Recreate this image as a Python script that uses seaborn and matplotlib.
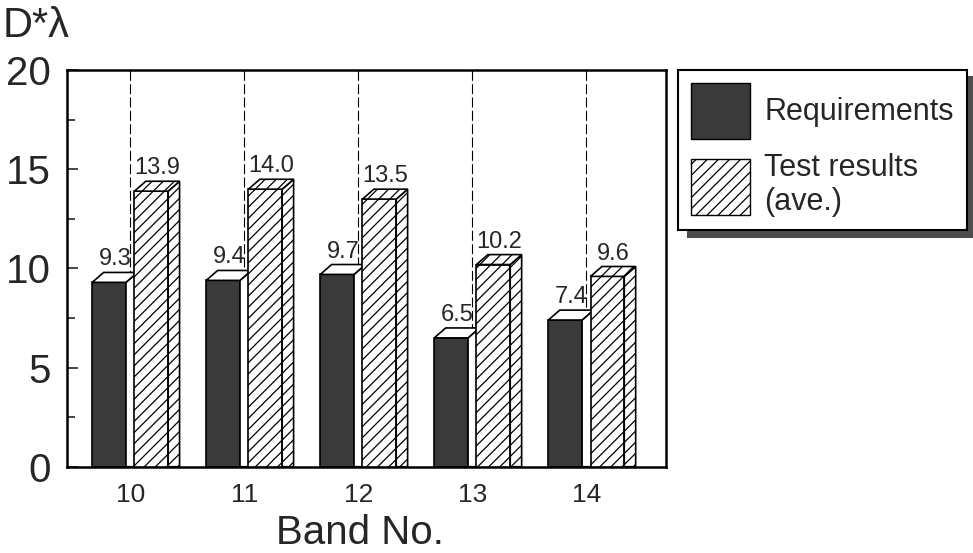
import pandas as pd
import matplotlib.pyplot as plt
import numpy as np
import seaborn as sns
from matplotlib.patches import Polygon, Patch
from matplotlib.ticker import MultipleLocator

sns.set_style("white")
plt.rcParams['font.family'] = ['Liberation Sans', 'DejaVu Sans']
plt.rcParams['hatch.linewidth'] = 0.9

# data
bands = ['10', '11', '12', '13', '14']
requirements = [9.3, 9.4, 9.7, 6.5, 7.4]
test_results = [13.9, 14.0, 13.5, 10.2, 9.6]
series = ['Requirements', 'Test results (ave.)']

df = pd.DataFrame({
    'band': bands * 2,
    'value': requirements + test_results,
    'series': [series[0]] * len(bands) + [series[1]] * len(bands),
})

dark = '#3a3a3a'
fig = plt.figure(figsize=(9.73, 5.53), dpi=100)
ax = fig.add_axes([0.069, 0.156, 0.6156, 0.717])

# dashed guide lines behind the bars
for i in range(len(bands)):
    ax.axvline(i, color='black', lw=0.8, ls=(0, (9, 3)), zorder=0)

sns.barplot(data=df, x='band', y='value', hue='series', hue_order=series,
            palette={series[0]: dark, series[1]: 'white'}, saturation=1,
            width=0.74, gap=0.2, errorbar=None, edgecolor='black',
            linewidth=1.2, legend=False, ax=ax)

# fake 3D depth: top and side faces
dx, dy = 0.1, 0.5
n = len(bands)
for k, p in enumerate(ax.patches[:2 * n]):
    hatched = k >= n
    x0, w, h = p.get_x(), p.get_width(), p.get_height()
    hatch = '///' if hatched else None
    if hatched:
        p.set_hatch('///')
    z = 3 if hatched else 2
    p.set_zorder(z)
    top = Polygon([(x0, h), (x0 + w, h), (x0 + w + dx, h + dy), (x0 + dx, h + dy)],
                  closed=True, facecolor='white', edgecolor='black', lw=1.2,
                  hatch=hatch, zorder=z)
    side = Polygon([(x0 + w, 0), (x0 + w + dx, 0), (x0 + w + dx, h + dy), (x0 + w, h)],
                   closed=True, facecolor='white', edgecolor='black', lw=1.2,
                   hatch=hatch, zorder=z)
    ax.add_patch(side)
    ax.add_patch(top)
    ax.text(x0 + (w + dx) / 2, h + dy + 0.1, f'{h:.1f}', ha='center', va='bottom',
            fontsize=17, zorder=5)

ax.set_xlim(-0.553, 4.70)
ax.set_ylim(0, 20)
ax.yaxis.set_major_locator(MultipleLocator(5))
ax.yaxis.set_minor_locator(MultipleLocator(2.5))
ax.tick_params(axis='y', which='major', direction='in', length=8, width=1.2,
               labelsize=29, pad=12, left=True)
ax.tick_params(axis='y', which='minor', direction='in', length=6, width=1.2, left=True)
ax.tick_params(axis='x', length=0, labelsize=19, pad=12)
for s in ax.spines.values():
    s.set_linewidth(1.8)
    s.set_color('black')

ax.set_ylabel('')
ax.set_xlabel('Band No.', fontsize=29, va='top')
ax.xaxis.set_label_coords(0.489, -0.118)

fig.text(0.003, 0.99, 'D*λ', fontsize=30, ha='left', va='top')

handles = [Patch(facecolor=dark, edgecolor='black'),
           Patch(facecolor='white', edgecolor='black', hatch='///')]
leg = fig.legend(handles, ['Requirements', 'Test results\n(ave.)'],
                 loc='upper left', bbox_to_anchor=(678 / 973, 1 - 70 / 553),
                 fontsize=22, frameon=True, fancybox=False,
                 shadow={'ox': 7, 'oy': -5, 'color': '0.3', 'alpha': 1},
                 handlelength=1.95, handleheight=2.45, handletextpad=0.45,
                 borderpad=0.42, labelspacing=0.45, borderaxespad=0)
leg.get_frame().set_edgecolor('black')
leg.get_frame().set_linewidth(1.5)

fig.savefig('out.png', dpi=100)
